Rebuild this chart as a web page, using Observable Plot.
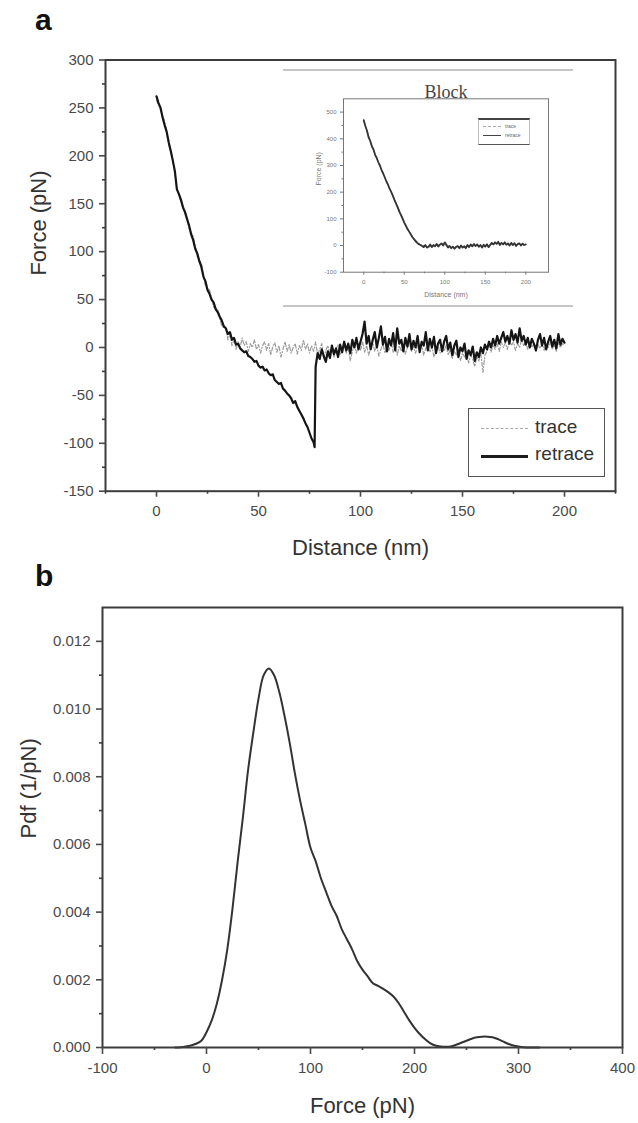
<!DOCTYPE html>
<html><head><meta charset="utf-8">
<script src="https://cdn.jsdelivr.net/npm/d3@7"></script>
<script src="https://cdn.jsdelivr.net/npm/@observablehq/plot@0.6"></script>
<style>
body{margin:0;background:#fff;}
#wrap{position:relative;width:638px;height:1123px;overflow:hidden;background:#fff;font-family:'Liberation Sans',Arial,sans-serif;}
.lbl{position:absolute;font-weight:bold;font-size:30px;line-height:30px;color:#111;}
</style></head><body><div id="wrap"></div>
<script>
// ---------- Panel a: trace / retrace force curves ----------
const traceDistance = [0,2,4,6,8,10,12,14,16,18,20,22,24,26,28,30,32,34,
35,36,37,38,39,40,41,42,43,44,45,46,47,48,49,50,51,52,53,54,55,56,57,58,59,60,
61,62,63,64,65,66,67,68,69,70,71,72,73,74,75,76,77,78,79,80,81,82,83,84,85,86,87,88,89,90,
91,92,93,94,95,96,97,98,99,100,101,102,103,104,105,106,107,108,109,110,111,112,113,114,115,116,117,118,119,120,
121,122,123,124,125,126,127,128,129,130,131,132,133,134,135,136,137,138,139,140,141,142,143,144,145,146,147,148,149,150,
151,152,153,154,155,156,157,158,159,160,161,162,163,164,165,166,167,168,169,170,171,172,173,174,175,176,177,178,179,180,
181,182,183,184,185,186,187,188,189,190,191,192,193,194,195,196,197,198,199,200];
const traceForce = [258,248,236,212,196,166,152,143,124,116,95,88,64,60,42,40,22,20,
8,14,2,8,-2,6,0,10,2,6,-4,4,0,8,-2,3,-6,2,6,-3,4,-8,1,5,-5,2,
-10,-2,6,-4,3,-6,0,4,-7,2,-3,8,-2,4,-6,2,-4,6,-8,-2,4,-12,-3,2,-6,0,-10,-2,3,-8,
-1,4,-6,0,-14,-4,2,-6,4,-3,6,-5,2,-8,0,5,-4,2,-9,-2,4,-6,1,-3,6,-5,0,-8,2,-4,
3,-7,0,5,-4,1,-6,2,-2,4,-8,-1,3,-5,1,-10,-3,2,-6,0,-4,3,-8,-2,-12,-4,-8,-2,-14,-6,
-10,-4,-16,-8,-12,-20,-10,-14,-6,-26,-8,-4,2,-5,3,-2,4,-4,6,0,5,-2,8,2,6,-3,4,0,8,2,
5,-2,6,0,4,-4,3,-1,5,-3,4,0,6,-2,3,-4,5,0,4,2];

const retraceDistance = [0,1,2,3,4,5,6,7,8,9,10,11,12,13,14,15,16,17,18,19,20,21,22,23,24,25,26,27,28,29,30,
31,32,33,34,35,36,37,38,39,40,41,42,43,44,45,46,47,48,49,50,51,52,53,54,55,56,57,58,59,60,
61,62,63,64,65,66,67,68,69,70,71,72,73,74,75,76,77,77.5,
78,79,80,81,82,83,84,85,86,87,88,89,90,91,92,93,94,95,96,97,98,99,100,101,102,103,104,105,106,107,108,109,110,
111,112,113,114,115,116,117,118,119,120,121,122,123,124,125,126,127,128,129,130,131,132,133,134,135,136,137,138,139,140,
141,142,143,144,145,146,147,148,149,150,151,152,153,154,155,156,157,158,159,160,161,162,163,164,165,166,167,168,169,170,
171,172,173,174,175,176,177,178,179,180,181,182,183,184,185,186,187,188,189,190,191,192,193,194,195,196,197,198,199,200];
const retraceForce = [262,255,250,240,232,225,214,205,195,184,165,160,154,146,141,134,127,118,112,103,98,90,84,74,69,60,56,50,47,40,37,
32,28,22,20,14,16,8,10,3,4,-1,-3,-5,-4,-9,-10,-12,-15,-14,-19,-21,-20,-24,-23,-27,-29,-28,-34,-36,-38,
-37,-43,-45,-48,-50,-53,-58,-56,-62,-66,-70,-74,-79,-83,-89,-95,-99,-104,
-20,-6,-12,-2,-9,-15,-4,-11,2,-7,-1,-10,3,-5,6,-3,4,-6,8,0,10,-2,6,14,27,4,12,-2,8,16,0,10,22,
3,11,-4,9,2,15,-3,20,4,8,-4,10,1,14,-2,7,0,12,-5,6,2,16,-3,9,0,11,-6,4,8,-4,
6,12,-2,5,-8,2,7,-10,0,-4,4,-12,-3,-8,1,-14,-5,-10,0,-6,3,-2,6,0,9,2,12,4,10,16,
6,12,4,18,8,14,5,20,7,12,3,10,0,9,4,-3,8,14,2,10,-2,6,12,1,8,-1,14,3,9,5];

const aXMajor = [0,50,100,150,200];
const aXMinor = [-25,25,75,125,175,225];
const aYMajor = [-150,-100,-50,0,50,100,150,200,250,300];
const aYMinor = [-125,-75,-25,25,75,125,175,225,275];

// ---------- Inset "Block" ----------
const blockRetraceDistance = [0,2,4,6,8,10,12,14,16,18,20,22,24,26,28,30,32,34,36,38,40,42,44,46,48,50,52,54,56,58,60,
62,64,66,68,70,72,74,76,78,80,82,84,86,88,90,92,94,96,98,100,102,104,106,108,110,112,114,116,118,120,
122,124,126,128,130,132,134,136,138,140,142,144,146,148,150,152,154,156,158,160,162,164,166,168,170,172,174,176,178,180,
182,184,186,188,190,192,194,196,198,200];
const blockRetraceForce = [470,448,430,405,392,372,360,340,328,312,300,283,270,255,240,228,212,200,186,170,156,142,126,114,100,86,74,62,52,42,32,
24,16,10,5,2,-2,-6,2,-8,-4,4,-6,2,-3,6,-4,3,8,0,12,2,-8,-2,-10,-4,-12,-5,-2,-10,0,
-8,-3,-10,2,-6,4,-3,6,-2,4,-5,2,-8,3,-4,5,-6,2,10,4,12,6,14,2,10,4,12,3,8,0,
10,2,9,-2,6,8,0,7,2,4];
const blockTraceDistance = [0,10,20,30,40,50,60,70,80,90,100,110,120,130,140,150,160,170,180,190,200];
const blockTraceForce = [466,376,296,224,160,90,30,4,-6,2,6,-8,-4,-2,0,-5,6,8,2,4,2];
const blockXMajor = [0,50,100,150,200];
const blockXMinor = [25,75,125,175];
const blockYMajor = [-100,0,100,200,300,400,500];
const blockYMinor = [-50,50,150,250,350,450];

// ---------- Panel b: probability density ----------
const pdfForce = [-30,-25,-20,-15,-10,-5,0,5,10,15,20,25,30,35,40,45,50,55,60,65,70,75,80,85,90,95,100,105,110,115,120,
125,130,135,140,145,150,155,160,165,170,175,180,185,190,195,200,205,210,215,220,225,230,235,240,245,250,255,260,265,270,
275,280,285,290,295,300,305,310,320];
const pdfValue = [0,0.00001,0.00003,0.00006,0.00011,0.0002,0.00045,0.0008,0.0013,0.002,0.0029,0.0041,0.0055,0.0068,0.0082,0.0093,
0.0103,0.011,0.0112,0.011,0.0105,0.0098,0.009,0.0081,0.0073,0.0066,0.0059,0.0055,0.005,0.0046,0.0042,0.0039,0.0035,0.0032,
0.0029,0.00255,0.0023,0.0021,0.0019,0.00182,0.00173,0.00163,0.0015,0.0013,0.00105,0.0008,0.00058,0.0004,0.00025,0.00013,
0.00006,0.00003,0.00002,0.00003,0.00008,0.00014,0.0002,0.00026,0.0003,0.00032,0.00032,0.0003,0.00025,0.00018,0.00011,
0.00006,0.00003,0.00001,0,0];
const bXMajor = [-100,0,100,200,300,400];
const bXMinor = [-50,50,150,250,350];
const bYMajor = [0,0.002,0.004,0.006,0.008,0.010,0.012];
const bYMinor = [0.001,0.003,0.005,0.007,0.009,0.011];

const legendLabels = ["trace","retrace"];

// ---------- build ----------
const FONT = "'Liberation Sans', Arial, sans-serif";
const AX = "#3c3c3c";
const TXT = "#4a4a4a";
const plain = d => String(d);              // hyphen-minus, as in the original
const fix3 = d => d.toFixed(3);
const wrap = document.getElementById("wrap");
function place(el, left, top) {
  el.style.position = "absolute";
  el.style.left = left + "px";
  el.style.top = top + "px";
  wrap.appendChild(el);
  return el;
}

const traceRows = traceDistance.map((d, i) => ({d, f: traceForce[i]}));
const retraceRows = retraceDistance.map((d, i) => ({d, f: retraceForce[i]}));

const plotA = Plot.plot({
  width: 638, height: 565,
  marginTop: 59.5, marginRight: 23, marginBottom: 74.3, marginLeft: 105,
  style: {background: "transparent", fontFamily: FONT, overflow: "visible"},
  x: {domain: [-25, 225]},
  y: {domain: [-150, 300]},
  marks: [
    Plot.line(traceRows, {x: "d", y: "f", stroke: "#9c9c9c", strokeWidth: 1.2, strokeDasharray: "4,2,1,2"}),
    Plot.line(retraceRows, {x: "d", y: "f", stroke: "#151515", strokeWidth: 2.2}),
    Plot.frame({stroke: AX, strokeWidth: 2}),
    Plot.axisX({ticks: aXMajor, tickFormat: plain, tickSize: 6, tickPadding: 8, fontSize: 15, strokeWidth: 1.6, color: TXT, label: null}),
    Plot.axisX({ticks: aXMinor, tickSize: 3, tickFormat: () => "", strokeWidth: 1.6, color: AX, label: null}),
    Plot.axisY({ticks: aYMajor, tickFormat: plain, tickSize: 6, tickPadding: 6, fontSize: 15, strokeWidth: 1.6, color: TXT, label: null}),
    Plot.axisY({ticks: aYMinor, tickSize: 3, tickFormat: () => "", strokeWidth: 1.6, color: AX, label: null}),
    Plot.text(["Distance (nm)"], {text: d => d, frameAnchor: "bottom", dy: 57, lineAnchor: "middle", fontSize: 22, fill: "#333"}),
    Plot.text(["Force (pN)"], {text: d => d, frameAnchor: "left", dx: -67, rotate: -90, fontSize: 22, fill: "#333"})
  ]
});
place(plotA, 0, 0);

// inset
const insetBox = document.createElement("div");
insetBox.style.cssText = "width:290px;height:234px;border-top:2px solid #c6c6c6;border-bottom:2px solid #c6c6c6;background:#fff;";
place(insetBox, 283, 69);
const bRet = blockRetraceDistance.map((d, i) => ({d, f: blockRetraceForce[i]}));
const bTr = blockTraceDistance.map((d, i) => ({d, f: blockTraceForce[i]}));
const plotInset = Plot.plot({
  width: 290, height: 234,
  marginTop: 27.3, marginRight: 25, marginBottom: 33.3, marginLeft: 60,
  style: {background: "transparent", fontFamily: FONT, overflow: "visible"},
  x: {domain: [-25, 228]},
  y: {domain: [-100, 550]},
  marks: [
    Plot.line(bTr, {x: "d", y: "f", stroke: "#999", strokeWidth: 1, strokeDasharray: "3,2"}),
    Plot.line(bRet, {x: "d", y: "f", stroke: "#333", strokeWidth: 1.8}),
    Plot.frame({stroke: "#777", strokeWidth: 1}),
    Plot.axisX({ticks: blockXMajor, tickFormat: plain, tickSize: 3, tickPadding: 5, fontSize: 6, strokeWidth: 1, color: "#777", label: null}),
    Plot.axisX({ticks: blockXMinor, tickSize: 1.5, tickFormat: () => "", strokeWidth: 1, color: "#777", label: null}),
    Plot.axisY({ticks: blockYMajor, tickFormat: plain, tickSize: 3, tickPadding: 4, fontSize: 6, strokeWidth: 1, color: "#777", label: null}),
    Plot.axisY({ticks: blockYMinor, tickSize: 1.5, tickFormat: () => "", strokeWidth: 1, color: "#777", label: null}),
    Plot.text(["Block"], {text: d => d, frameAnchor: "top", dy: -7, lineAnchor: "middle", fontSize: 18, fontFamily: "'Liberation Serif', 'DejaVu Serif', serif", fill: "#444"}),
    Plot.text(["Distance (nm)"], {text: d => d, frameAnchor: "bottom", dy: 23, lineAnchor: "middle", fontSize: 7, fill: "#777"}),
    Plot.text(["Force (pN)"], {text: d => d, frameAnchor: "left", dx: -25, rotate: -90, fontSize: 7, fill: "#777"})
  ]
});
plotInset.style.position = "absolute";
plotInset.style.left = "0px";
plotInset.style.top = "0px";
insetBox.appendChild(plotInset);

// inset legend
const il = document.createElement("div");
il.style.cssText = "position:absolute;left:195px;top:47px;width:52px;height:27px;box-sizing:border-box;border-top:2px solid #444;border-bottom:1.5px solid #555;border-left:1px solid #bbb;border-right:1px solid #bbb;font-size:5px;color:#666;background:#fff;";
legendLabels.forEach((t, i) => {
  const ln = document.createElement("div");
  ln.style.cssText = `position:absolute;left:4px;top:${6 + i * 9}px;width:18px;border-top:${i ? "1.8px solid #444" : "1px dashed #aaa"};`;
  il.appendChild(ln);
  const tx = document.createElement("div");
  tx.textContent = t;
  tx.style.cssText = `position:absolute;left:26px;top:${3 + i * 9}px;font-size:5px;line-height:6px;`;
  il.appendChild(tx);
});
insetBox.appendChild(il);

// main legend
const leg = document.createElement("div");
leg.style.cssText = "width:137px;height:69px;box-sizing:border-box;border:1.5px solid #555;background:#fff;";
legendLabels.forEach((t, i) => {
  const ln = document.createElement("div");
  const y = i ? 46 : 19;
  ln.style.cssText = `position:absolute;left:12px;top:${y}px;width:47px;border-top:${i ? "3px solid #1c1c1c" : "1.5px dashed #a8a8a8"};`;
  leg.appendChild(ln);
  const tx = document.createElement("div");
  tx.textContent = t;
  tx.style.cssText = `position:absolute;left:66px;top:${y - 12}px;font-size:19px;line-height:22px;color:#333;`;
  leg.appendChild(tx);
});
place(leg, 468, 408);

// panel b
const pdfRows = pdfForce.map((f, i) => ({f, p: pdfValue[i]}));
const plotB = Plot.plot({
  width: 638, height: 558,
  marginTop: 42, marginRight: 16, marginBottom: 76, marginLeft: 102,
  style: {background: "transparent", fontFamily: FONT, overflow: "visible"},
  x: {domain: [-100, 400]},
  y: {domain: [0, 0.013]},
  marks: [
    Plot.line(pdfRows, {x: "f", y: "p", curve: "catmull-rom", stroke: "#333", strokeWidth: 2}),
    Plot.frame({stroke: AX, strokeWidth: 2}),
    Plot.axisX({ticks: bXMajor, tickFormat: plain, tickSize: 7, tickPadding: 8, fontSize: 15, strokeWidth: 1.6, color: TXT, label: null}),
    Plot.axisX({ticks: bXMinor, tickSize: 3, tickFormat: () => "", strokeWidth: 1.6, color: AX, label: null}),
    Plot.axisY({ticks: bYMajor, tickSize: 6, tickPadding: 6, fontSize: 15, tickFormat: fix3, strokeWidth: 1.6, color: TXT, label: null}),
    Plot.axisY({ticks: bYMinor, tickSize: 3, tickFormat: () => "", strokeWidth: 1.6, color: AX, label: null}),
    Plot.text(["Force (pN)"], {text: d => d, frameAnchor: "bottom", dy: 58, lineAnchor: "middle", fontSize: 22, fill: "#333"}),
    Plot.text(["Pdf (1/pN)"], {text: d => d, frameAnchor: "left", dx: -74, dy: 11, rotate: -90, fontSize: 22, fill: "#333"})
  ]
});
place(plotB, 0, 565);

// panel letters
const la = document.createElement("div"); la.className = "lbl"; la.textContent = "a"; place(la, 35, 5);
const lb = document.createElement("div"); lb.className = "lbl"; lb.textContent = "b"; place(lb, 35, 561);
</script></body></html>
